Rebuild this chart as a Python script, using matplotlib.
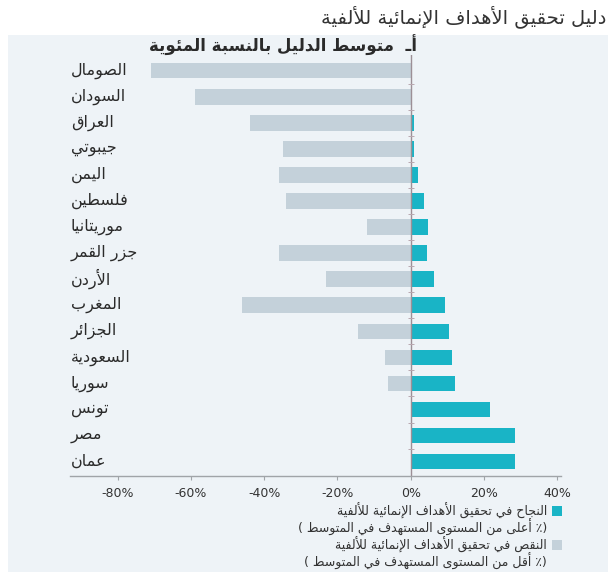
import matplotlib
matplotlib.use("Agg")
import matplotlib.pyplot as plt
from matplotlib.patches import Rectangle
import matplotlib.transforms as mtransforms

# data (percent vs. average target level)
countries = ["الصومال", "السودان", "العراق", "جيبوتي", "اليمن", "فلسطين",
             "موريتانيا", "جزر القمر", "الأردن", "المغرب", "الجزائر",
             "السعودية", "سوريا", "تونس", "مصر", "عمان"]
shortfall = [-71, -59, -44, -35, -36, -34, -12, -36, -23, -46, -14.5, -7, -6.3, 0, 0, 0]
success   = [0, 0, 1, 1, 2, 3.5, 4.7, 4.4, 6.3, 9.3, 10.4, 11.2, 12, 21.6, 28.5, 28.5]
xticks = [-80, -60, -40, -20, 0, 20, 40]

page_title  = "دليل تحقيق الأهداف الإنمائية للألفية"
panel_title = "أـ  متوسط الدليل بالنسبة المئوية"
leg_success = ["النجاح في تحقيق الأهداف الإنمائية للألفية",
               "(٪ أعلى من المستوى المستهدف في المتوسط )"]
leg_short   = ["النقص في تحقيق الأهداف الإنمائية للألفية",
               "(٪ أقل من المستوى المستهدف في المتوسط )"]

TEAL, GREY, PANEL = "#19b4c6", "#c4d1da", "#eef3f7"

# --- minimal Arabic shaping (no reshaper libs in sandbox) ---
DUAL = {'ئ': 0xFE89, 'ب': 0xFE8F, 'ت': 0xFE95, 'ث': 0xFE99, 'ج': 0xFE9D, 'ح': 0xFEA1,
        'خ': 0xFEA5, 'س': 0xFEB1, 'ش': 0xFEB5, 'ص': 0xFEB9, 'ض': 0xFEBD, 'ط': 0xFEC1,
        'ظ': 0xFEC5, 'ع': 0xFEC9, 'غ': 0xFECD, 'ف': 0xFED1, 'ق': 0xFED5, 'ك': 0xFED9,
        'ل': 0xFEDD, 'م': 0xFEE1, 'ن': 0xFEE5, 'ه': 0xFEE9, 'ي': 0xFEF1}
RIGHT = {'آ': 0xFE81, 'أ': 0xFE83, 'ؤ': 0xFE85, 'إ': 0xFE87, 'ا': 0xFE8D, 'ة': 0xFE93,
         'د': 0xFEA9, 'ذ': 0xFEAB, 'ر': 0xFEAD, 'ز': 0xFEAF, 'و': 0xFEED, 'ى': 0xFEEF}
LAMALEF = {'آ': 0xFEF5, 'أ': 0xFEF7, 'إ': 0xFEF9, 'ا': 0xFEFB}
MIRROR = {'(': ')', ')': '('}


def ar(s):
    units, i = [], 0
    while i < len(s):
        c = s[i]
        if c == 'ل' and i + 1 < len(s) and s[i + 1] in LAMALEF:
            units.append(('R', LAMALEF[s[i + 1]], c)); i += 2; continue
        if c in DUAL:
            units.append(('D', DUAL[c], c))
        elif c in RIGHT:
            units.append(('R', RIGHT[c], c))
        elif c == 'ـ':
            units.append(('T', None, c))
        else:
            units.append(('N', None, MIRROR.get(c, c)))
        i += 1
    out = []
    for k, (kind, base, c) in enumerate(units):
        prev = k > 0 and units[k - 1][0] in ('D', 'T')
        nxt = k < len(units) - 1 and units[k + 1][0] in ('D', 'R', 'T')
        if kind == 'D':
            idx = 3 if (prev and nxt) else 2 if nxt else 1 if prev else 0
            out.append(chr(base + idx))
        elif kind == 'R':
            out.append(chr(base + (1 if prev else 0)))
        else:
            out.append(c)
    return "".join(out[::-1])


fig = plt.figure(figsize=(6.08, 5.72), dpi=100)
fig.patches.append(Rectangle((8 / 608, 0), 1, 1 - 35 / 572, transform=fig.transFigure,
                             facecolor=PANEL, edgecolor="none", zorder=-10))

ax = fig.add_axes([70 / 608, 1 - 476 / 572, (561 - 70) / 608, (476 - 55) / 572])
ax.set_facecolor("none")
rows = list(range(len(countries)))
ax.barh(rows, shortfall, height=0.6, color=GREY, zorder=2)
ax.barh(rows, success, height=0.6, color=TEAL, zorder=2)
ax.axvline(0, color="#9c8f96", lw=1.0, zorder=3)
ax.plot([0] * (len(rows) - 1), [r + 0.5 for r in rows[:-1]], ls="none", marker="_",
        ms=5, mew=0.7, color="#b9a8b0", zorder=3)

ax.set_xlim(-93, 41)
ax.set_ylim(15.55, -0.6)
ax.set_yticks([])
ax.set_xticks(xticks)
ax.set_xticklabels([f"{t}%" for t in xticks])
ax.tick_params(axis="x", length=3, width=0.8, color="#a0a4a8", labelsize=9,
               labelcolor="#333333", pad=5)
for s in ("top", "right", "left"):
    ax.spines[s].set_visible(False)
ax.spines["bottom"].set_color("#a0a4a8")
ax.spines["bottom"].set_linewidth(1.0)

trans = mtransforms.blended_transform_factory(ax.transAxes, ax.transData)
for r, name in zip(rows, countries):
    ax.text(0.002, r, ar(name), transform=trans, ha="left", va="center",
            fontsize=11.5, color="#2a2a2a")

fig.text(0.997, 1 - 17 / 572, ar(page_title), ha="right", va="center",
         fontsize=14, color="#333333")
fig.text(417 / 608, 1 - 45 / 572, ar(panel_title), ha="right", va="center",
         fontsize=12, fontweight="bold", color="#2a2a2a")

# legend, drawn by hand to match the right-aligned Arabic layout
for (lines, col, y0) in ((leg_success, TEAL, 511), (leg_short, GREY, 545)):
    fig.patches.append(Rectangle((552 / 608, 1 - (y0 + 5) / 572), 10 / 608, 10 / 572,
                                 transform=fig.transFigure, facecolor=col, edgecolor="none"))
    fig.text(547 / 608, 1 - y0 / 572, ar(lines[0]), ha="right", va="center",
             fontsize=9, color="#333333")
    fig.text(547 / 608, 1 - (y0 + 16.5) / 572, ar(lines[1]), ha="right", va="center",
             fontsize=9, color="#333333")

fig.savefig("out.png", dpi=100)
